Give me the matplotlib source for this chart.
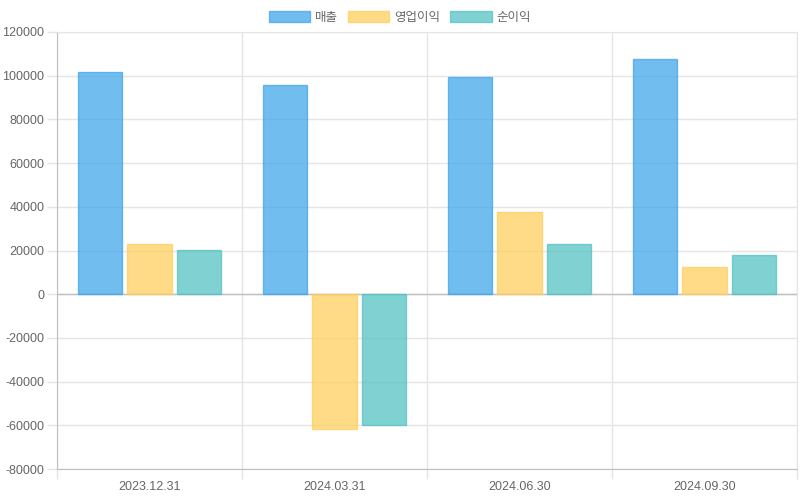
import numpy as np
import matplotlib
matplotlib.use("Agg")
import matplotlib.pyplot as plt
from matplotlib.patches import Patch

plt.rcParams['font.family'] = ['Liberation Sans', 'Noto Sans CJK KR', 'DejaVu Sans']

# dati
periodi = ["2023.12.31", "2024.03.31", "2024.06.30", "2024.09.30"]
serie = ["매출", "영업이익", "순이익"]
매출 = [101600, 95600, 99400, 107800]
영업이익 = [23000, -61600, 37600, 12500]
순이익 = [20200, -59700, 23000, 17800]
valori = [매출, 영업이익, 순이익]

riempimento = ["#36a2eb", "#ffcd56", "#4bc0c0"]
bordo = ["#36a2eb", "#ffcd56", "#4bc0c0"]

fig = plt.figure(figsize=(8, 5), dpi=100)
ax = fig.add_axes([57/800, 31/500, 740/800, 437/500])

x = np.arange(len(periodi))
slot = 0.8 / 3
larg = slot * 0.9
for i in range(3):
    ax.bar(x + (i - 1) * slot, valori[i], width=larg,
           color=riempimento[i], alpha=0.7, edgecolor=bordo[i], linewidth=1, zorder=3)

ax.set_xlim(-0.5, len(periodi) - 0.5)
ax.set_ylim(-80000, 120000)
ax.set_yticks(np.arange(-80000, 120001, 20000))
ax.set_yticklabels([str(v) for v in range(-80000, 120001, 20000)])
ax.set_xticks(x)
ax.set_xticklabels(periodi)
ax.set_xticks(np.arange(-0.5, len(periodi), 1), minor=True)

grigio = "#e5e5e5"
ax.grid(True, axis="y", color=grigio, linewidth=1, zorder=0)
ax.grid(True, axis="x", which="minor", color=grigio, linewidth=1, zorder=0)
ax.axhline(0, color="#bfbfbf", linewidth=1, zorder=2)

ax.tick_params(axis="x", which="major", length=0, pad=9, labelsize=9, labelcolor="#666666")
ax.tick_params(axis="x", which="minor", length=7.2, color=grigio, width=1)
ax.tick_params(axis="y", length=7.2, color=grigio, width=1, pad=2, labelsize=9, labelcolor="#666666")

for lato in ["top", "right"]:
    ax.spines[lato].set_color(grigio)
ax.spines["left"].set_color("#bfbfbf")
ax.spines["bottom"].set_color("#bfbfbf")

maniglie = [Patch(facecolor=riempimento[i], alpha=0.7, edgecolor=bordo[i], linewidth=1, label=serie[i])
            for i in range(3)]
fig.legend(handles=maniglie, loc="upper center", bbox_to_anchor=(0.5, 1.0), ncol=3,
           frameon=False, fontsize=9, labelcolor="#666666", handlelength=3.3, handleheight=1.0,
           handletextpad=0.4, columnspacing=0.8)

plt.savefig("out.png", dpi=100)
